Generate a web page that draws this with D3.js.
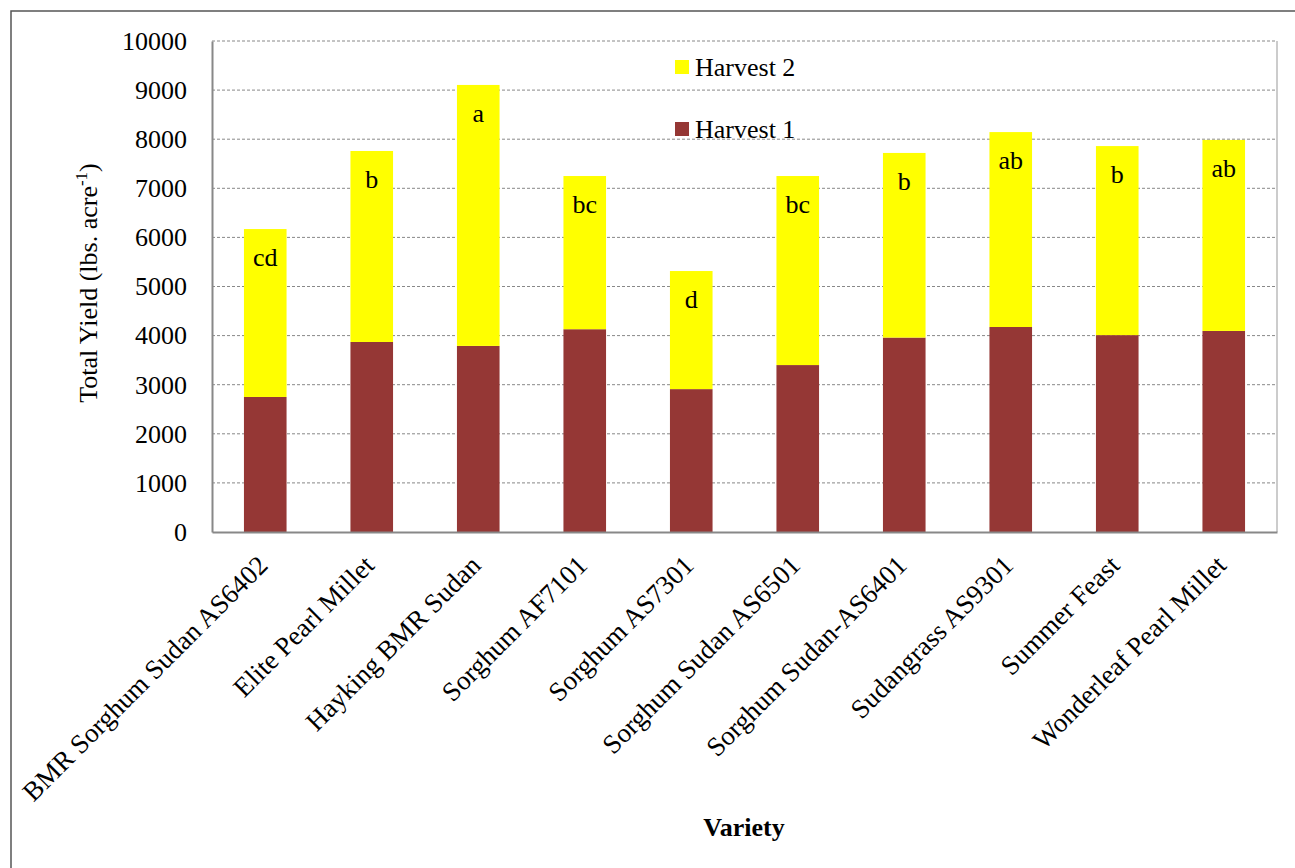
<!DOCTYPE html>
<html>
<head>
<meta charset="utf-8">
<script src="https://cdn.jsdelivr.net/npm/d3@7"></script>
<style>
  body { margin: 0; background: #fff; }
  text { font-family: "Liberation Serif", "Times New Roman", serif; }
</style>
</head>
<body>
<div id="chart-area"></div>
<script>
let varieties = ['BMR Sorghum Sudan AS6402', 'Elite Pearl Millet', 'Hayking BMR Sudan',
  'Sorghum AF7101', 'Sorghum AS7301', 'Sorghum Sudan AS6501', 'Sorghum Sudan-AS6401',
  'Sudangrass AS9301', 'Summer Feast', 'Wonderleaf Pearl Millet'];
let harvest1 = [2750, 3870, 3790, 4130, 2910, 3400, 3960, 4175, 4010, 4095];
let harvest2 = [3420, 3890, 5315, 3120, 2405, 3850, 3760, 3970, 3850, 3890];
let letters = ['cd', 'b', 'a', 'bc', 'd', 'bc', 'b', 'ab', 'b', 'ab'];
let yTicks = [0, 1000, 2000, 3000, 4000, 5000, 6000, 7000, 8000, 9000, 10000];
let seriesNames = ['Harvest 1', 'Harvest 2'];
let seriesColors = ['#953735', '#ffff00'];

let margin = { left: 212, right: 18, top: 41, bottom: 336 };
let width = 1295 - margin.left - margin.right;
let height = 868 - margin.top - margin.bottom;
let fontSize = 26;

let svg = d3.select('#chart-area').append('svg')
  .attr('width', 1295)
  .attr('height', 868);

// outer frame
svg.append('rect')
  .attr('x', 11).attr('y', 11)
  .attr('width', 1400).attr('height', 1000)
  .attr('fill', 'none')
  .attr('stroke', '#555')
  .attr('stroke-width', 1.5);

let g = svg.append('g')
  .attr('transform', `translate(${margin.left}, ${margin.top})`);

let data = varieties.map((v, i) => ({ name: v, h1: harvest1[i], h2: harvest2[i], letter: letters[i] }));

let x = d3.scaleBand()
  .domain(varieties)
  .range([0, width])
  .paddingInner(0.6)
  .paddingOuter(0.3);

let y = d3.scaleLinear()
  .domain([0, 10000])
  .range([height, 0]);

// grid lines
g.selectAll('.grid')
  .data(yTicks.filter(d => d > 0))
  .enter()
  .append('line')
  .attr('class', 'grid')
  .attr('x1', 0).attr('x2', width)
  .attr('y1', d => y(d)).attr('y2', d => y(d))
  .attr('stroke', '#888')
  .attr('stroke-dasharray', '3,2')
  .attr('stroke-width', 1);

// right border
g.append('line')
  .attr('x1', width).attr('x2', width)
  .attr('y1', 0).attr('y2', height)
  .attr('stroke', '#999');

let stack = d3.stack().keys(['h1', 'h2'])(data);

g.selectAll('.series')
  .data(stack)
  .enter()
  .append('g')
  .attr('fill', (d, i) => seriesColors[i])
  .selectAll('rect')
  .data(d => d)
  .enter()
  .append('rect')
  .attr('x', d => x(d.data.name))
  .attr('width', x.bandwidth())
  .attr('y', d => y(d[1]))
  .attr('height', d => y(d[0]) - y(d[1]));

// significance letters
g.selectAll('.letter')
  .data(data)
  .enter()
  .append('text')
  .attr('class', 'letter')
  .attr('x', d => x(d.name) + x.bandwidth() / 2)
  .attr('y', d => y(d.h1 + d.h2) + 37)
  .attr('text-anchor', 'middle')
  .attr('font-size', fontSize)
  .text(d => d.letter);

// axes
let leftAxis = d3.axisLeft(y).tickValues(yTicks).tickFormat(d3.format('d')).tickSize(0).tickPadding(25);
let la = g.append('g').attr('class', 'left-axis').call(leftAxis);
la.select('.domain').attr('stroke', '#888').attr('stroke-width', 2);
la.selectAll('text').attr('font-size', fontSize).attr('fill', '#000')
  .style('font-family', '"Liberation Serif", serif');

let bottomAxis = d3.axisBottom(x).tickSize(0);
let ba = g.append('g')
  .attr('class', 'bottom-axis')
  .attr('transform', `translate(0, ${height})`)
  .call(bottomAxis);
ba.select('.domain').attr('stroke', '#888').attr('stroke-width', 2);
ba.selectAll('text')
  .attr('font-size', 27)
  .attr('fill', '#000')
  .style('font-family', '"Liberation Serif", serif')
  .attr('x', 0)
  .attr('y', 0)
  .attr('dy', 0)
  .attr('text-anchor', 'end')
  .attr('transform', 'translate(4, 35) rotate(-45)');

// axis titles
let yTitle = svg.append('text')
  .attr('transform', 'translate(97, 283) rotate(-90)')
  .attr('text-anchor', 'middle')
  .attr('font-size', fontSize);
yTitle.append('tspan').text('Total Yield (lbs. acre');
yTitle.append('tspan').attr('dy', -10).attr('font-size', 17).text('-1');
yTitle.append('tspan').attr('dy', 10).text(')');

svg.append('text')
  .attr('x', 744)
  .attr('y', 836)
  .attr('text-anchor', 'middle')
  .attr('font-size', fontSize)
  .attr('font-weight', 'bold')
  .text('Variety');

// legend
let legend = svg.append('g').attr('transform', 'translate(675, 60)');
let legendOrder = [1, 0];
legendOrder.forEach((s, i) => {
  legend.append('rect')
    .attr('x', 0).attr('y', i * 62)
    .attr('width', 14).attr('height', 14)
    .attr('fill', seriesColors[s]);
  legend.append('text')
    .attr('x', 20).attr('y', i * 62 + 16)
    .attr('font-size', fontSize)
    .text(seriesNames[s]);
});
</script>
</body>
</html>
